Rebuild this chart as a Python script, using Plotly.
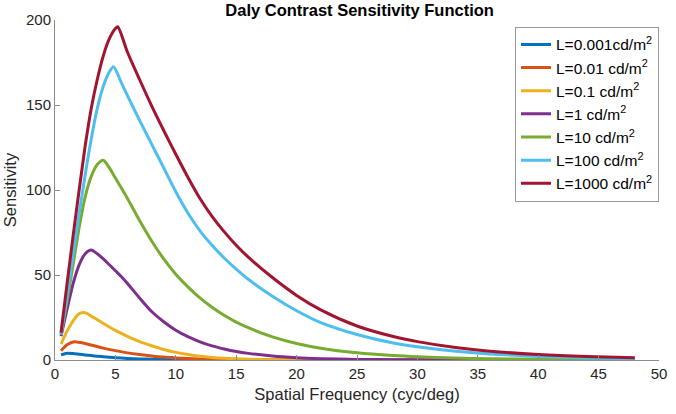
import plotly.graph_objects as go

# Spatial frequency samples (cyc/deg) and sensitivity
labels = ["L=0.001cd/m<sup>2</sup>", "L=0.01 cd/m<sup>2</sup>", "L=0.1 cd/m<sup>2</sup>",
          "L=1 cd/m<sup>2</sup>", "L=10 cd/m<sup>2</sup>", "L=100 cd/m<sup>2</sup>",
          "L=1000 cd/m<sup>2</sup>"]

f_0001 = [0.5, 1.0, 1.5, 2, 2.5, 3, 3.5, 4, 5, 6, 7, 8, 9, 10, 12, 14, 16, 20, 25, 30, 40, 48]
s_0001 = [3.0, 4.0, 3.8, 3.4, 3.0, 2.6, 2.25, 1.9, 1.35, 0.95, 0.65, 0.45, 0.3, 0.2, 0.09, 0.04, 0.02,
          0.01, 0.0, 0.0, 0.0, 0.0]

f_001 = [0.5, 1.0, 1.6, 2, 2.5, 3, 3.5, 4, 5, 6, 7, 8, 9, 10, 11, 12, 13, 14, 16, 18, 20, 25, 30, 40, 48]
s_001 = [5.5, 9.0, 10.7, 10.4, 9.7, 8.8, 7.9, 7.0, 5.5, 4.2, 3.2, 2.4, 1.7, 1.25, 0.9, 0.62, 0.43, 0.3,
         0.14, 0.06, 0.03, 0.01, 0.0, 0.0, 0.0]

f_01 = [0.5, 1.0, 1.5, 2, 2.3, 2.6, 3, 3.5, 4, 4.5, 5, 6, 7, 8, 9, 10, 11, 12, 13, 14, 15, 16, 18, 20,
        25, 30, 40, 48]
s_01 = [9.4, 17.0, 23.0, 27.2, 28.0, 27.6, 25.8, 23.7, 21.5, 19.4, 17.4, 13.9, 10.8, 8.4, 6.2, 4.5, 3.2,
        2.2, 1.5, 1.0, 0.7, 0.45, 0.2, 0.1, 0.02, 0.0, 0.0, 0.0]

f_1 = [0.5, 1.0, 1.5, 2, 2.5, 3, 3.5, 4, 4.5, 5, 5.5, 6, 7, 8, 9, 10, 11, 12, 13, 14, 15, 16, 18, 20,
       22, 25, 28, 32, 40, 48]
s_1 = [14.0, 30.0, 45.0, 56.0, 62.5, 64.7, 62.5, 59.5, 56.0, 52.5, 49.0, 45.0, 36.5, 28.5, 22.5, 17.5,
       13.7, 10.7, 8.3, 6.5, 5.0, 3.9, 2.3, 1.35, 0.8, 0.35, 0.15, 0.05, 0.0, 0.0]

f_10 = [0.5, 1.0, 1.5, 2, 2.5, 3, 3.5, 4, 4.5, 5, 6, 7, 8, 9, 10, 11, 12, 13, 14, 15, 16, 18, 20, 22,
        25, 28, 30, 33, 36, 40, 44, 48]
s_10 = [15.0, 35.0, 56.0, 78.0, 96.0, 108.0, 115.0, 117.5, 113.0, 107.0, 95.0, 82.0, 70.0, 59.5, 50.5,
        43.0, 36.5, 31.0, 26.3, 22.3, 19.0, 13.6, 9.7, 6.9, 4.2, 2.6, 1.9, 1.2, 0.75, 0.4, 0.22, 0.12]

f_100 = [0.5, 1.0, 1.5, 2, 2.5, 3, 3.5, 4, 4.5, 4.85, 5.5, 6, 7, 8, 9, 10, 11, 12, 13, 14, 15, 16, 18,
         20, 22, 25, 28, 30, 33, 36, 40, 44, 48]
s_100 = [15.0, 38.0, 62.0, 86.0, 109.0, 130.0, 148.0, 161.0, 169.5, 172.5, 163.0, 155.5, 141.0, 127.0,
         113.0, 99.0, 86.5, 76.0, 67.5, 60.0, 53.5, 47.5, 37.5, 29.0, 22.0, 15.0, 10.0, 7.8, 5.3, 3.6,
         2.1, 1.2, 0.7]

f_1000 = [0.5, 1.0, 1.5, 2, 2.5, 3, 3.5, 4, 4.5, 5, 5.2, 6, 7, 8, 9, 10, 11, 12, 13, 14, 15, 16, 18,
          20, 22, 25, 28, 30, 33, 36, 40, 44, 48]
s_1000 = [16.0, 45.0, 73.0, 100.0, 126.0, 148.0, 165.0, 179.0, 189.0, 195.0, 196.0, 181.0, 165.0,
          149.5, 135.0, 121.0, 107.5, 95.0, 84.5, 75.5, 67.5, 60.5, 48.5, 38.0, 29.5, 20.0, 13.8, 10.8,
          7.5, 5.2, 3.2, 2.0, 1.3]

freqs = [f_0001, f_001, f_01, f_1, f_10, f_100, f_1000]
series = [s_0001, s_001, s_01, s_1, s_10, s_100, s_1000]
colors = ["#0072BD", "#D95319", "#EDB120", "#7E2F8E", "#77AC30", "#4DBEEE", "#A2142F"]

FONT = "Liberation Sans, Arial, Helvetica, sans-serif"

fig = go.Figure()
for name, xs, ys, c in zip(labels, freqs, series, colors):
    fig.add_trace(go.Scatter(x=xs, y=ys, mode="lines", name=name,
                             line=dict(color=c, width=3, shape="spline", smoothing=0.7)))

axis_common = dict(showline=True, linecolor="#8c8c8c", linewidth=1, ticks="inside", ticklen=5,
                   tickcolor="#8c8c8c", showgrid=False, zeroline=False,
                   tickfont=dict(family=FONT, size=15, color="#262626"))

fig.update_layout(
    width=676, height=414,
    margin=dict(l=52, r=9, t=20, b=54),
    paper_bgcolor="white", plot_bgcolor="white",
    title=dict(text="<b>Daly Contrast Sensitivity Function</b>", x=0.532, xanchor="center",
               y=0.975, yanchor="middle", font=dict(family=FONT, size=16.5, color="black")),
    xaxis=dict(range=[0, 50], dtick=5, tick0=0,
               title=dict(text="Spatial Frequency (cyc/deg)", standoff=7,
                          font=dict(family=FONT, size=16.5, color="#262626")),
               **axis_common),
    yaxis=dict(range=[0, 200], dtick=50, tick0=0,
               title=dict(text="Sensitivity", standoff=5,
                          font=dict(family=FONT, size=16.5, color="#262626")),
               **axis_common),
    legend=dict(x=1.0, xanchor="right", y=0.98, yanchor="top", bgcolor="white",
                bordercolor="#9a9a9a", borderwidth=1,
                font=dict(family=FONT, size=15.5, color="black"), itemwidth=30,
                tracegroupgap=0),
    showlegend=True,
)

fig.write_html("out.html")
